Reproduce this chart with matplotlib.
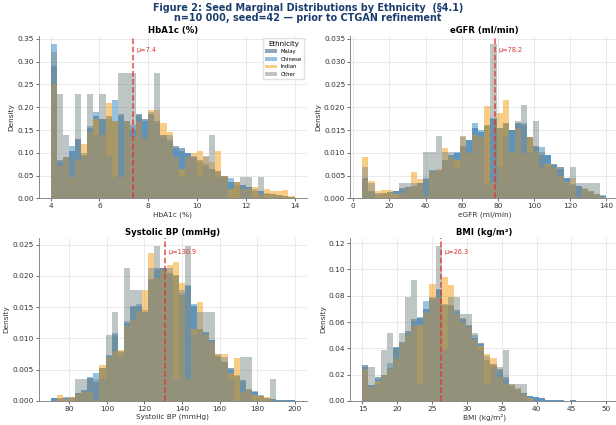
import numpy as np
import matplotlib
matplotlib.use("Agg")
import matplotlib.pyplot as plt

# ethnic groups and colours
groups = ["Malay", "Chinese", "Indian", "Other"]
colors = {"Malay": "#1f4e79", "Chinese": "#2e86c1", "Indian": "#f39c12", "Other": "#7f8c8d"}

# ---- HbA1c (%) : 40 bins, 4 -> 14, density per bin
hba1c_range = (4, 14)
hba1c_malay = [0.29, 0.085, 0.09, 0.105, 0.13, 0.095, 0.155, 0.18, 0.175, 0.18,
               0.17, 0.185, 0.17, 0.15, 0.185, 0.175, 0.185, 0.17, 0.14, 0.125,
               0.115, 0.11, 0.10, 0.09, 0.085, 0.07, 0.065, 0.06, 0.05, 0.035,
               0.035, 0.03, 0.025, 0.015, 0.015, 0.01, 0.01, 0.008, 0.005, 0.002]
hba1c_chinese = [0.34, 0.08, 0.09, 0.115, 0.13, 0.10, 0.158, 0.19, 0.175, 0.175,
                 0.215, 0.18, 0.17, 0.16, 0.18, 0.17, 0.19, 0.165, 0.135, 0.13,
                 0.11, 0.105, 0.10, 0.09, 0.08, 0.075, 0.065, 0.06, 0.05, 0.045,
                 0.03, 0.03, 0.025, 0.02, 0.015, 0.012, 0.01, 0.007, 0.005, 0.003]
hba1c_indian = [0.25, 0.07, 0.09, 0.047, 0.085, 0.12, 0.145, 0.175, 0.14, 0.21,
                0.17, 0.046, 0.17, 0.135, 0.17, 0.13, 0.195, 0.195, 0.165, 0.145,
                0.09, 0.065, 0.09, 0.10, 0.105, 0.09, 0.08, 0.105, 0.05, 0.02,
                0.035, 0.02, 0.02, 0.025, 0.01, 0.02, 0.015, 0.015, 0.018, 0.005]
hba1c_other = [0.321, 0.23, 0.138, 0.092, 0.23, 0.092, 0.23, 0.138, 0.23, 0.092,
               0.046, 0.275, 0.275, 0.275, 0.184, 0.138, 0.184, 0.275, 0.138, 0.138,
               0.092, 0.046, 0.092, 0.092, 0.046, 0.092, 0.138, 0.046, 0.046, 0.0,
               0.0, 0.046, 0.046, 0.0, 0.046, 0.0, 0.0, 0.0, 0.0, 0.0]
hba1c_mean = 7.36

# ---- eGFR (ml/min) : 40 bins, 5 -> 140
egfr_range = (5, 140)
egfr_malay = [0.0045, 0.0015, 0.001, 0.0012, 0.0014, 0.0015, 0.0022, 0.0025, 0.0028, 0.0034,
              0.0043, 0.006, 0.0062, 0.0085, 0.0095, 0.010, 0.0115, 0.0127, 0.0155, 0.0145,
              0.016, 0.0175, 0.0155, 0.0165, 0.015, 0.0165, 0.016, 0.0135, 0.0115, 0.0095,
              0.0095, 0.0075, 0.0065, 0.0045, 0.003, 0.0028, 0.002, 0.0015, 0.001, 0.0006]
egfr_chinese = [0.0045, 0.0014, 0.0012, 0.0011, 0.0013, 0.0015, 0.002, 0.0024, 0.0027, 0.0033,
                0.0045, 0.0062, 0.0061, 0.0084, 0.0095, 0.0102, 0.0113, 0.0127, 0.0166, 0.015,
                0.0158, 0.0177, 0.0155, 0.0163, 0.015, 0.0165, 0.0165, 0.0135, 0.0112, 0.0112,
                0.0095, 0.0074, 0.0068, 0.0045, 0.0031, 0.0028, 0.0021, 0.0014, 0.001, 0.0007]
egfr_indian = [0.009, 0.0037, 0.0015, 0.0018, 0.0018, 0.001, 0.0012, 0.0022, 0.0058, 0.0043,
               0.0005, 0.0058, 0.0065, 0.011, 0.009, 0.0085, 0.0135, 0.010, 0.014, 0.0135,
               0.0202, 0.0035, 0.0187, 0.0215, 0.0102, 0.0155, 0.010, 0.0135, 0.0105, 0.0068,
               0.0075, 0.0068, 0.0048, 0.0035, 0.0045, 0.0002, 0.0023, 0.0015, 0.001, 0.0003]
egfr_other = [0.0068, 0.0034, 0.0, 0.0, 0.0, 0.0, 0.0034, 0.0034, 0.0034, 0.0034,
              0.0102, 0.0102, 0.0136, 0.0102, 0.0102, 0.0068, 0.0136, 0.0102, 0.0136, 0.0136,
              0.0034, 0.034, 0.0068, 0.0136, 0.0102, 0.017, 0.0205, 0.0102, 0.017, 0.0102,
              0.0068, 0.0068, 0.0068, 0.0034, 0.0068, 0.0034, 0.0034, 0.0034, 0.0034, 0.0]
egfr_mean = 78.2

# ---- Systolic BP (mmHg) : 40 bins, 70 -> 200
sbp_range = (70, 200)
sbp_malay = [0.0005, 0.0004, 0.0004, 0.0005, 0.0013, 0.0017, 0.0036, 0.003, 0.0052, 0.0072,
             0.0105, 0.0078, 0.0125, 0.0152, 0.0152, 0.0142, 0.0195, 0.0212, 0.0212, 0.0205,
             0.0202, 0.017, 0.0183, 0.0152, 0.0115, 0.011, 0.0098, 0.0072, 0.0063, 0.0052,
             0.004, 0.0033, 0.0018, 0.0015, 0.0008, 0.0005, 0.0003, 0.0002, 0.0001, 0.0001]
sbp_chinese = [0.0004, 0.0003, 0.0006, 0.0007, 0.0012, 0.0016, 0.0038, 0.0045, 0.0052, 0.0073,
               0.0108, 0.008, 0.0127, 0.015, 0.0155, 0.0145, 0.0193, 0.021, 0.0212, 0.0203,
               0.02, 0.0172, 0.0185, 0.0155, 0.0113, 0.0108, 0.0097, 0.0075, 0.0062, 0.005,
               0.0041, 0.0032, 0.0019, 0.0016, 0.001, 0.0004, 0.0003, 0.0002, 0.0001, 0.0001]
sbp_indian = [0.0, 0.001, 0.0003, 0.0006, 0.0011, 0.0015, 0.0015, 0.0002, 0.0058, 0.007,
              0.008, 0.0082, 0.012, 0.013, 0.0143, 0.0178, 0.0237, 0.0196, 0.021, 0.0218,
              0.0222, 0.0188, 0.0035, 0.0115, 0.0158, 0.0105, 0.0095, 0.0075, 0.0075, 0.0045,
              0.0069, 0.0015, 0.0019, 0.001, 0.0008, 0.0006, 0.0, 0.0, 0.0, 0.0]
sbp_other = [0.0, 0.0, 0.0, 0.0, 0.0035, 0.0035, 0.0035, 0.0035, 0.0035, 0.0106,
             0.0142, 0.0071, 0.0212, 0.0177, 0.0177, 0.0142, 0.0212, 0.0248, 0.0212, 0.0212,
             0.0035, 0.0177, 0.0248, 0.0106, 0.0142, 0.0142, 0.0142, 0.0071, 0.0071, 0.0035,
             0.0, 0.0071, 0.0071, 0.0, 0.0, 0.0, 0.0035, 0.0, 0.0, 0.0]
sbp_mean = 130.9

# ---- BMI (kg/m²) : 40 bins, 15 -> 50
bmi_range = (15, 50)
bmi_malay = [0.027, 0.012, 0.018, 0.02, 0.025, 0.041, 0.045, 0.053, 0.062, 0.063,
             0.07, 0.078, 0.085, 0.073, 0.073, 0.069, 0.062, 0.058, 0.048, 0.044,
             0.031, 0.028, 0.024, 0.018, 0.012, 0.009, 0.006, 0.004, 0.003, 0.002,
             0.0008, 0.0005, 0.001, 0.0003, 0.0008, 0.0003, 0.0002, 0.0001, 0.0, 0.0001]
bmi_chinese = [0.026, 0.012, 0.017, 0.02, 0.029, 0.04, 0.043, 0.052, 0.061, 0.064,
               0.076, 0.077, 0.084, 0.074, 0.072, 0.068, 0.063, 0.057, 0.05, 0.043,
               0.034, 0.027, 0.023, 0.017, 0.011, 0.009, 0.006, 0.004, 0.003, 0.002,
               0.0007, 0.0005, 0.0008, 0.0003, 0.0007, 0.0002, 0.0002, 0.0001, 0.0, 0.0]
bmi_indian = [0.024, 0.011, 0.015, 0.0195, 0.024, 0.032, 0.044, 0.05, 0.057, 0.058,
              0.067, 0.089, 0.079, 0.094, 0.088, 0.066, 0.06, 0.056, 0.046, 0.042,
              0.036, 0.033, 0.018, 0.013, 0.013, 0.01, 0.005, 0.002, 0.0, 0.0,
              0.0, 0.0, 0.0, 0.0, 0.0, 0.0, 0.0, 0.0, 0.0, 0.0]
bmi_other = [0.026, 0.026, 0.013, 0.039, 0.052, 0.039, 0.052, 0.079, 0.092, 0.013,
             0.066, 0.079, 0.118, 0.039, 0.079, 0.079, 0.066, 0.066, 0.052, 0.039,
             0.013, 0.026, 0.026, 0.039, 0.013, 0.013, 0.013, 0.0, 0.0, 0.0,
             0.0, 0.0, 0.0, 0.0, 0.0, 0.0, 0.0, 0.0, 0.0, 0.0]
bmi_mean = 26.3

panels = [
    ("HbA1c (%)", hba1c_range, [hba1c_malay, hba1c_chinese, hba1c_indian, hba1c_other], hba1c_mean, "μ=7.4", [4, 6, 8, 10, 12, 14]),
    ("eGFR (ml/min)", egfr_range, [egfr_malay, egfr_chinese, egfr_indian, egfr_other], egfr_mean, "μ=78.2", np.arange(0, 141, 20)),
    ("Systolic BP (mmHg)", sbp_range, [sbp_malay, sbp_chinese, sbp_indian, sbp_other], sbp_mean, "μ=130.9", np.arange(80, 201, 20)),
    ("BMI (kg/m²)", bmi_range, [bmi_malay, bmi_chinese, bmi_indian, bmi_other], bmi_mean, "μ=26.3", np.arange(15, 51, 5)),
]

fig = plt.figure(figsize=(6.16, 4.25), dpi=100)
positions = [
    [0.0625, 0.5334, 0.4355, 0.3824],
    [0.5685, 0.5334, 0.4355, 0.3824],
    [0.0625, 0.0565, 0.4355, 0.3835],
    [0.5685, 0.0565, 0.4355, 0.3835],
]

for (title, rng, series, mu, mu_txt, xt), pos in zip(panels, positions):
    ax = fig.add_axes(pos)
    edges = np.linspace(rng[0], rng[1], 41)
    for g, vals in zip(groups, series):
        ax.hist(edges[:-1], bins=edges, weights=vals, color=colors[g], alpha=0.5,
                label=g, edgecolor="none")
    ax.axvline(mu, color="#e03030", ls="--", lw=1.1, alpha=0.85)
    ax.text(mu + (rng[1] - rng[0]) * 0.015, 0.915, mu_txt, transform=ax.get_xaxis_transform(),
            color="#e03030", fontsize=4.7, va="center")
    ax.set_title(title, fontsize=6.1, fontweight="bold", pad=2)
    ax.set_xlabel(title, fontsize=5.3, color="#333333", labelpad=1.5)
    ax.set_ylabel("Density", fontsize=5.3, color="#333333", labelpad=2)
    ax.set_xticks(xt)
    ax.tick_params(labelsize=5.3, length=2, width=0.5, pad=1.5, colors="#333333")
    ax.grid(True, color="#e6e6e6", lw=0.6)
    ax.set_axisbelow(True)
    for s in ["top", "right"]:
        ax.spines[s].set_visible(False)
    for s in ["left", "bottom"]:
        ax.spines[s].set_color("#888888")
        ax.spines[s].set_linewidth(0.7)
    if title.startswith("HbA1c"):
        ax.legend(title="Ethnicity", fontsize=3.8, title_fontsize=5, loc="upper right",
                  framealpha=0.9, edgecolor="#dddddd", handlelength=2.2, borderpad=0.4)

fig.suptitle("Figure 2: Seed Marginal Distributions by Ethnicity  (§4.1)\n"
             "n=10 000, seed=42 — prior to CTGAN refinement",
             fontsize=6.9, fontweight="bold", color="#1a3d6d", y=0.993, linespacing=1.0)

fig.savefig("out.png", dpi=100)
